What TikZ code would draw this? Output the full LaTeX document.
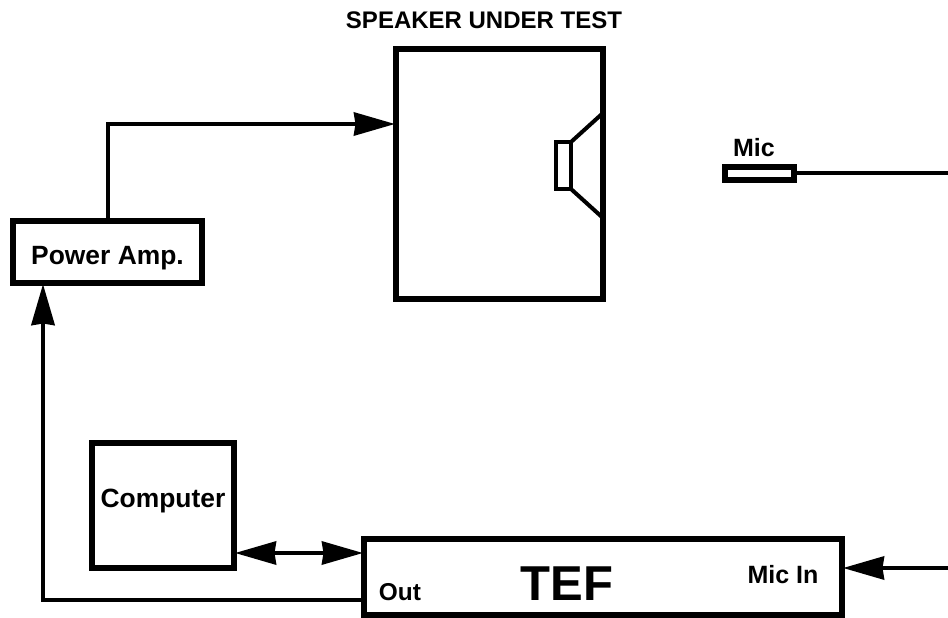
\documentclass[tikz,border=0pt]{standalone}
\usepackage{fontspec}
\setmainfont{Liberation Sans}
\usetikzlibrary{arrows.meta}
\tikzset{
 box/.style={draw=black,line width=6pt,inner sep=0pt,outer sep=3pt,font=\bfseries\fontsize{26.4}{30}\selectfont},
 lbl/.style={inner sep=0pt,anchor=base,font=\bfseries\fontsize{25}{30}\selectfont},
 conn/.style={draw=black,line width=4pt},
 arr/.style={conn,shorten >=-2pt,-{Stealth[length=41pt,width=23pt,inset=1.5pt]}},
 arrb/.style={conn,shorten >=-2pt,shorten <=-2pt,{Stealth[length=41pt,width=23pt,inset=1.5pt]}-{Stealth[length=41pt,width=23pt,inset=1.5pt]}}
}
\begin{document}
\begin{tikzpicture}[x=1pt,y=-1pt]
\useasboundingbox (0,0) rectangle (948,618);
\node[lbl,font=\bfseries\fontsize{24}{28}\selectfont] (title) at (484,29) {SPEAKER UNDER TEST};
\node[box,minimum width=207pt,minimum height=250pt] (spk) at (499.5,174) {};
\node[box,minimum width=189pt,minimum height=62pt,text height=24pt,text depth=0pt] (amp) at (107.5,252) {Power Amp.};
\node[box,minimum width=142pt,minimum height=125pt,text height=19pt,text depth=16pt] (comp) at (163,505.5) {Computer};
\node[box,minimum width=478pt,minimum height=76pt] (tef) at (603,577) {};
\node[lbl,font=\bfseries\fontsize{49}{54}\selectfont] (teft) at (567,600) {TEF};
\node[lbl,font=\bfseries\fontsize{24.4}{28}\selectfont] (outl) at (400,600) {Out};
\node[lbl] (micin) at (783,583) {Mic In};
\node[lbl] (micl) at (754,156) {Mic};
\node[draw=black,line width=6.5pt,minimum width=69pt,minimum height=13pt,inner sep=0pt,outer sep=3.25pt] (mic) at (759.5,173.5) {};
% speaker driver
\draw[black,line width=3.5pt] (556,142) rectangle (571,189);
\draw[black,line width=4pt] (571,142) -- (603,113);
\draw[black,line width=4pt] (571,189) -- (603,218);
% connectors
\coordinate (e1) at (948,568);
\coordinate (e2) at (948,173);
\draw[arr] (amp.north) -- (amp.north|-0,124) -- (spk.west|-0,124);
\draw[arr,line width=4.5pt] (tef.west|-0,600) -- (43,600) -- (43,0|-amp.south);
\draw[arrb] (comp.east|-0,553) -- (tef.west|-0,553);
\draw[arr] (e1) -- (tef.east|-0,568);
\draw[conn] (mic.east|-e2) -- (e2);
\end{tikzpicture}
\end{document}
